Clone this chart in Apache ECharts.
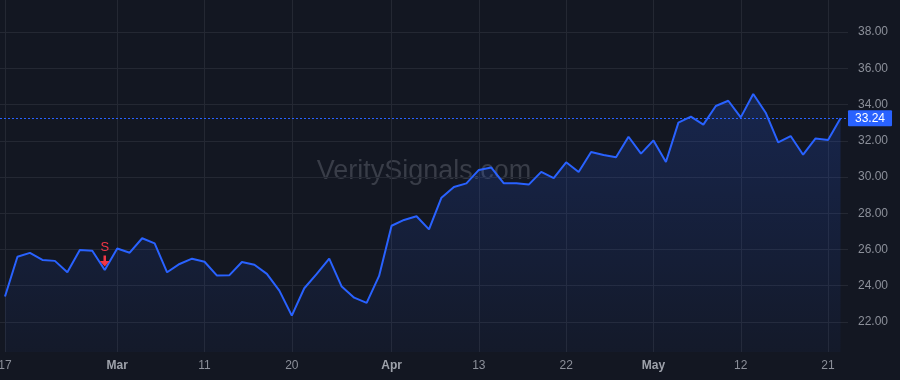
<!DOCTYPE html>
<html>
<head>
<meta charset="utf-8">
<script src="https://cdn.jsdelivr.net/npm/echarts@6/dist/echarts.min.js"></script>
<style>
  html, body { margin: 0; padding: 0; background: #131722; }
  #chart { width: 900px; height: 380px; }
</style>
</head>
<body>
<div id="chart"></div>
<script>
// trading days, Feb 17 -> May 22
const dates = [
  '2026-02-17','2026-02-18','2026-02-19','2026-02-20','2026-02-23','2026-02-24','2026-02-25','2026-02-26','2026-02-27',
  '2026-03-02','2026-03-03','2026-03-04','2026-03-05','2026-03-06','2026-03-09','2026-03-10','2026-03-11','2026-03-12',
  '2026-03-13','2026-03-16','2026-03-17','2026-03-18','2026-03-19','2026-03-20','2026-03-23','2026-03-24','2026-03-25',
  '2026-03-26','2026-03-27','2026-03-30','2026-03-31','2026-04-01','2026-04-02','2026-04-06','2026-04-07','2026-04-08',
  '2026-04-09','2026-04-10','2026-04-13','2026-04-14','2026-04-15','2026-04-16','2026-04-17','2026-04-20','2026-04-21',
  '2026-04-22','2026-04-23','2026-04-24','2026-04-27','2026-04-28','2026-04-29','2026-04-30','2026-05-01','2026-05-04',
  '2026-05-05','2026-05-06','2026-05-07','2026-05-08','2026-05-11','2026-05-12','2026-05-13','2026-05-14','2026-05-15',
  '2026-05-18','2026-05-19','2026-05-20','2026-05-21','2026-05-22'
];
const closes = [
  23.40, 25.60, 25.81, 25.42, 25.37, 24.74, 25.97, 25.93, 24.87, 26.05,
  25.82, 26.62, 26.34, 24.74, 25.20, 25.49, 25.32, 24.56, 24.58, 25.31,
  25.16, 24.65, 23.73, 22.35, 23.86, 24.65, 25.49, 23.95, 23.34, 23.05,
  24.54, 27.31, 27.63, 27.83, 27.11, 28.86, 29.45, 29.65, 30.39, 30.52,
  29.65, 29.65, 29.58, 30.28, 29.94, 30.81, 30.28, 31.38, 31.21, 31.09,
  32.22, 31.29, 32.02, 30.83, 33.00, 33.33, 32.89, 33.92, 34.21, 33.29,
  34.58, 33.55, 31.91, 32.26, 31.23, 32.13, 32.04, 33.24
];
const tickDates = ['2026-02-17','2026-03-02','2026-03-11','2026-03-20','2026-04-01',
                   '2026-04-13','2026-04-22','2026-05-01','2026-05-12','2026-05-21'];
const priceTicks = [22, 24, 26, 28, 30, 32, 34, 36, 38];
const signalDate = '2026-02-27';
const signalText = 'S';
const lastPrice = closes[closes.length - 1];
const MONTHS = ['Jan','Feb','Mar','Apr','May','Jun','Jul','Aug','Sep','Oct','Nov','Dec'];

const tickIdx = tickDates.map(d => dates.indexOf(d));
const seriesData = closes.map((v, i) => [i, v]);
const sigIdx = dates.indexOf(signalDate);

function tickLabel(i) {
  const d = dates[i];
  const day = +d.slice(8, 10);
  const prev = dates[i - 1];
  if (prev && prev.slice(5, 7) !== d.slice(5, 7)) return '{m|' + MONTHS[+d.slice(5, 7) - 1] + '}';
  return String(day);
}

const GRID = '#242833';
const TEXT = '#8c909a';
const BLUE = '#2962ff';
const RED = '#f23645';

const chart = echarts.init(document.getElementById('chart'));
chart.setOption({
  backgroundColor: '#131722',
  animation: false,
  textStyle: { fontFamily: 'Liberation Sans, Arial, sans-serif' },
  graphic: [{
    type: 'text', x: 424, y: 172, z: 0,
    style: {
      text: 'VeritySignals.com', fill: '#393d48', align: 'center', verticalAlign: 'middle',
      font: '27px Liberation Sans, Arial, sans-serif'
    }
  }],
  grid: { left: 0, right: 52, top: 0, bottom: 28, outerBoundsMode: 'none', containLabel: false },
  xAxis: {
    type: 'value',
    min: -0.4,
    max: 67.6,
    axisLine: { show: false },
    axisTick: { show: false, customValues: tickIdx },
    splitLine: { show: true, lineStyle: { color: GRID, width: 1 } },
    axisLabel: {
      customValues: tickIdx,
      margin: 8,
      color: TEXT,
      fontSize: 12,
      formatter: v => tickLabel(Math.round(v)),
      rich: { m: { fontWeight: 'bold', color: '#9ea2ab', fontSize: 12 } }
    }
  },
  yAxis: {
    type: 'value',
    position: 'right',
    min: 20.34,
    max: 39.77,
    axisLine: { show: false },
    axisTick: { show: false, customValues: priceTicks },
    splitLine: { show: true, lineStyle: { color: GRID, width: 1 } },
    axisLabel: {
      customValues: priceTicks,
      margin: 10,
      color: TEXT,
      fontSize: 12,
      formatter: v => v.toFixed(2)
    }
  },
  series: [{
    type: 'line',
    data: seriesData,
    showSymbol: false,
    symbol: 'none',
    lineStyle: { color: BLUE, width: 2 },
    areaStyle: {
      color: new echarts.graphic.LinearGradient(0, 0, 0, 1, [
        { offset: 0, color: 'rgba(41,98,255,0.28)' },
        { offset: 1, color: 'rgba(41,98,255,0.05)' }
      ])
    },
    markLine: {
      silent: true,
      symbol: 'none',
      lineStyle: { color: BLUE, width: 1, type: [2, 2] },
      label: {
        position: 'end',
        distance: 0,
        formatter: lastPrice.toFixed(2),
        color: '#ffffff',
        backgroundColor: BLUE,
        padding: [2, 7, 2, 7],
        fontSize: 12,
        borderRadius: 1
      },
      data: [{ yAxis: lastPrice }]
    },
    markPoint: {
      silent: true,
      data: [{
        coord: [sigIdx, closes[sigIdx]],
        symbol: 'path://M3,0 L5,0 L5,5 L8,5 L4,10 L0,5 L3,5 Z',
        symbolSize: [10, 11],
        symbolOffset: [0, -9],
        itemStyle: { color: RED },
        label: { show: true, position: 'top', distance: 2, formatter: signalText, color: RED, fontSize: 13 }
      }]
    }
  }]
});
</script>
</body>
</html>
